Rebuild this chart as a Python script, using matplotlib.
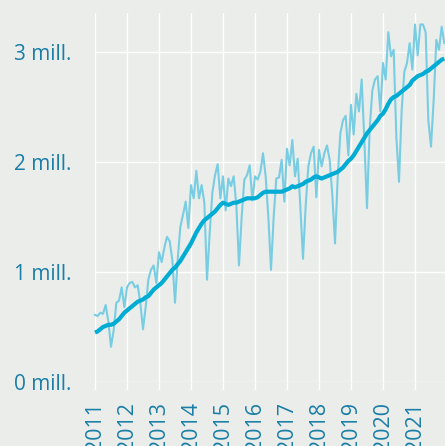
import numpy as np
import matplotlib
matplotlib.use("Agg")
import matplotlib.pyplot as plt

years = list(range(2011, 2022))
year_labels = [str(y) for y in years]
ytick_vals = [0, 1, 2, 3]
ytick_labels = ["0 mill.", "1 mill.", "2 mill.", "3 mill."]

# monthly values, millions
monthly = [
    0.61, 0.60, 0.63, 0.62, 0.70, 0.55, 0.32, 0.47, 0.72, 0.74, 0.86, 0.68,  # 2011
    0.86, 0.90, 0.91, 0.86, 0.88, 0.72, 0.48, 0.68, 0.93, 1.02, 1.06, 0.90,  # 2012
    1.18, 1.09, 1.22, 1.32, 1.28, 1.11, 0.72, 1.11, 1.41, 1.52, 1.64, 1.40,  # 2013
    1.79, 1.67, 1.92, 1.67, 1.79, 1.63, 0.93, 1.35, 1.72, 1.88, 1.98, 1.67,  # 2014
    1.87, 1.56, 1.85, 1.78, 1.87, 1.61, 1.06, 1.50, 1.84, 1.88, 1.97, 1.65,  # 2015
    1.87, 1.84, 1.91, 2.08, 1.87, 1.50, 1.02, 1.50, 1.85, 1.86, 2.02, 1.64,  # 2016
    2.12, 1.97, 2.20, 1.87, 2.03, 1.60, 1.12, 1.60, 1.96, 2.08, 2.14, 1.68,  # 2017
    2.11, 1.96, 2.08, 2.15, 2.02, 1.70, 1.26, 1.85, 2.26, 2.38, 2.42, 2.06,  # 2018
    2.52, 2.25, 2.62, 2.46, 2.75, 2.20, 1.58, 2.30, 2.65, 2.75, 2.78, 2.46,  # 2019
    2.90, 2.75, 3.18, 2.96, 3.02, 2.23, 1.82, 2.47, 2.82, 2.90, 3.08, 2.84,  # 2020
    3.25, 2.97, 3.25, 3.25, 3.18, 2.38, 2.14, 2.56, 3.11, 3.02, 3.23, 3.08,  # 2021
]

# trend (thick line), millions
trend = [
    0.45, 0.46, 0.48, 0.50, 0.51, 0.52, 0.52, 0.53, 0.55, 0.57, 0.60, 0.63,
    0.65, 0.67, 0.69, 0.71, 0.73, 0.74, 0.75, 0.77, 0.78, 0.81, 0.84, 0.86,
    0.88, 0.90, 0.93, 0.96, 0.99, 1.02, 1.04, 1.07, 1.10, 1.14, 1.18, 1.22,
    1.26, 1.31, 1.36, 1.40, 1.44, 1.47, 1.49, 1.51, 1.53, 1.55, 1.58, 1.61,
    1.63, 1.62, 1.61, 1.62, 1.63, 1.63, 1.64, 1.65, 1.66, 1.67, 1.67, 1.67,
    1.67, 1.68, 1.70, 1.72, 1.73, 1.73, 1.73, 1.73, 1.73, 1.73, 1.73, 1.74,
    1.75, 1.76, 1.78, 1.77, 1.78, 1.79, 1.80, 1.82, 1.83, 1.84, 1.86, 1.87,
    1.86, 1.85, 1.86, 1.87, 1.88, 1.89, 1.90, 1.91, 1.93, 1.95, 1.98, 2.01,
    2.03, 2.06, 2.10, 2.14, 2.18, 2.22, 2.26, 2.29, 2.32, 2.35, 2.38, 2.42,
    2.44, 2.48, 2.53, 2.57, 2.59, 2.60, 2.62, 2.64, 2.66, 2.68, 2.70, 2.74,
    2.76, 2.78, 2.79, 2.80, 2.82, 2.83, 2.85, 2.87, 2.89, 2.91, 2.93, 2.94,
]

bg = "#ebedea"
text_col = "#1a7ea8"
thin_col = "#78cde3"
thick_col = "#00acd4"

x = 2011 + np.arange(len(monthly)) / 12

plt.rcParams['font.family'] = ['Open Sans', 'DejaVu Sans']

fig = plt.figure(figsize=(4.45, 4.46), dpi=100, facecolor=bg)
ax = fig.add_axes([95 / 445, 1 - 382 / 446, 350 / 445, 369 / 446])
ax.set_facecolor(bg)

ax.plot(x, monthly, color=thin_col, lw=1.5, zorder=3, clip_on=False)
ax.plot(x, trend, color=thick_col, lw=3.0, zorder=4, solid_capstyle="butt", clip_on=False)

ax.set_xlim(2011, 2011 + 350 / 32)
ax.set_ylim(0, 369 / 110)

ax.set_xticks(years)
ax.set_xticklabels(year_labels, rotation=90, fontsize=15.5, color=text_col, va="top")
ax.set_yticks(ytick_vals)
ax.set_yticklabels(ytick_labels, fontsize=15, color=text_col)

ax.grid(True, color="white", lw=1.0, zorder=1)
ax.set_axisbelow(True)
ax.tick_params(axis="x", length=6, width=1.0, color="white", pad=8.5)
ax.tick_params(axis="y", length=0, pad=17)
for s in ax.spines.values():
    s.set_visible(False)

fig.savefig("out.png", dpi=100, facecolor=bg)
